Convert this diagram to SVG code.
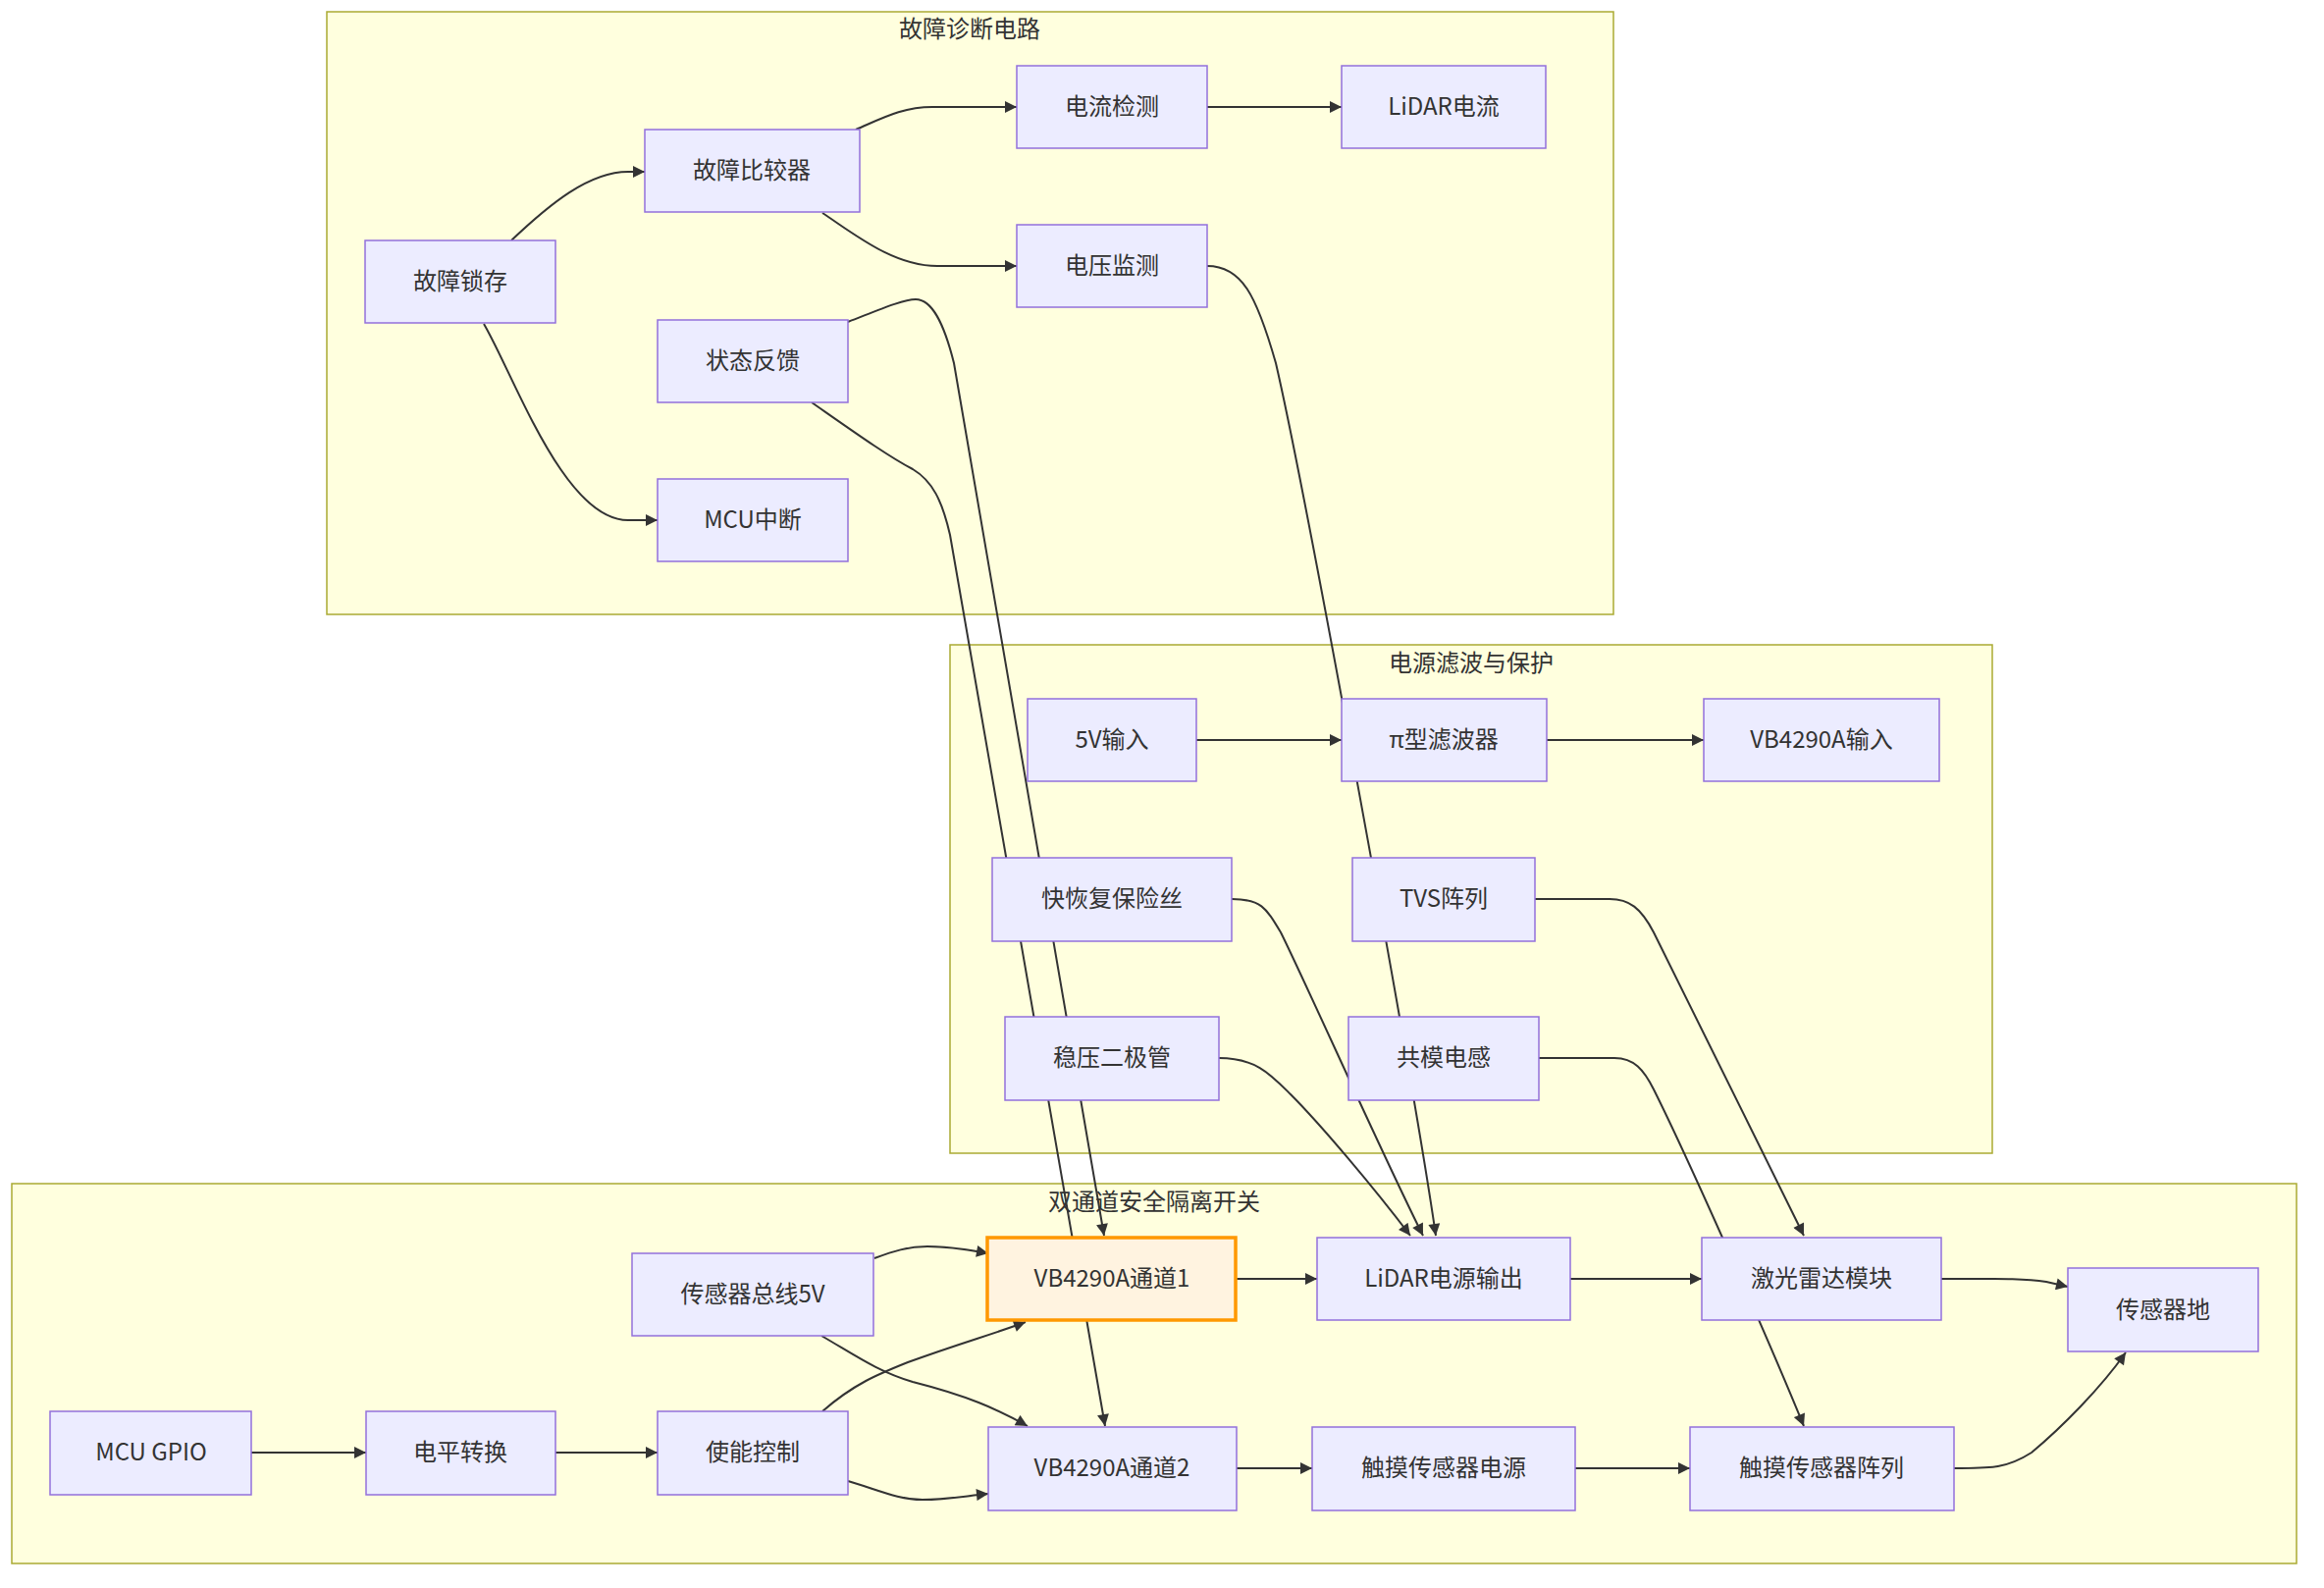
<svg xmlns="http://www.w3.org/2000/svg" width="2368" height="1618" viewBox="0 0 2368 1618">
<defs>
<style>
.cluster rect{fill:#ffffde;stroke:#aaaa33;stroke-width:1.5}
.ctitle{font-family:"Noto Sans CJK SC","Noto Sans",sans-serif;font-size:24px;fill:#333;text-anchor:middle;dominant-baseline:central}
.node rect{fill:#ececff;stroke:#9370db;stroke-width:1.5}
.node text{font-family:"Noto Sans CJK SC","Noto Sans",sans-serif;font-size:24px;fill:#333;text-anchor:middle;dominant-baseline:central}
.node.hl rect{fill:#fff3e0;stroke:#ff9800;stroke-width:3.5}
.edges path{fill:none;stroke:#333;stroke-width:2;marker-end:url(#arr)}
</style>
<marker id="arr" viewBox="0 0 10 10" refX="10" refY="5" markerUnits="userSpaceOnUse" markerWidth="13" markerHeight="12" orient="auto">
<path d="M0,0 L10,5 L0,10 z" fill="#333"/>
</marker>
</defs>
<rect width="2368" height="1618" fill="#ffffff"/>
<g id="clusters">
<g class="cluster" id="cluster-fault"><rect x="333" y="12" width="1311" height="614"/><text class="ctitle" x="988" y="27">故障诊断电路</text></g>
<g class="cluster" id="cluster-filter"><rect x="968" y="657" width="1062" height="518"/><text class="ctitle" x="1499" y="673">电源滤波与保护</text></g>
<g class="cluster" id="cluster-switch"><rect x="12" y="1206" width="2328" height="387"/><text class="ctitle" x="1176" y="1222">双通道安全隔离开关</text></g>
</g>
<g class="edges" id="connectors">
<path d="M521,245 C560,208 600,175 640,175 L657,175"/>
<path d="M493,330 C525,385 575,530 640,530 L670,530"/>
<path d="M872,132 C900,120 920,109 950,109 L1036,109"/>
<path d="M838,217 C870,238 910,271 955,271 L1036,271"/>
<path d="M1230,109 L1367,109"/>
<path d="M1230,271 C1265,271 1280,300 1300,370 C1330,500 1440,1100 1463,1259"/>
<path d="M864,328 C895,316 920,305 933,305 C950,305 962,330 972,370 L1125,1259"/>
<path d="M827,410 C870,440 905,465 930,478 C950,490 960,510 968,545 L1126,1453"/>
<path d="M1219,754 L1367,754"/>
<path d="M1576,754 L1736,754"/>
<path d="M1255,916 C1285,916 1290,925 1305,950 C1330,1000 1410,1180 1450,1259"/>
<path d="M1242,1078 C1280,1078 1295,1095 1315,1115 C1345,1145 1400,1210 1437,1259"/>
<path d="M1564,916 L1640,916 C1660,916 1672,925 1685,950 L1838,1259"/>
<path d="M1568,1078 L1645,1078 C1665,1078 1675,1090 1685,1110 C1720,1180 1800,1360 1838,1453"/>
<path d="M256,1480 L373,1480"/>
<path d="M566,1480 L670,1480"/>
<path d="M838,1438 C870,1410 895,1400 925,1388 C980,1368 1010,1360 1045,1347"/>
<path d="M864,1509 C895,1518 915,1528 940,1528 C965,1528 985,1524 1007,1522"/>
<path d="M891,1282 C910,1275 925,1270 945,1270 C970,1270 990,1274 1007,1277"/>
<path d="M837,1361 C870,1380 895,1398 930,1408 C985,1422 1015,1435 1047,1453"/>
<path d="M1259,1303 L1342,1303"/>
<path d="M1600,1303 L1734,1303"/>
<path d="M1260,1496 L1337,1496"/>
<path d="M1605,1496 L1722,1496"/>
<path d="M1978,1303 C2030,1303 2060,1302 2085,1306 L2107,1311"/>
<path d="M1991,1496 C2030,1496 2045,1496 2070,1480 C2100,1455 2140,1415 2166,1378"/>
</g>
<g id="nodes">
<g class="node" id="n-latch"><rect x="372" y="245" width="194" height="84"/><text x="469" y="284">故障锁存</text></g>
<g class="node" id="n-comp"><rect x="657" y="132" width="219" height="84"/><text x="766" y="171">故障比较器</text></g>
<g class="node" id="n-status"><rect x="670" y="326" width="194" height="84"/><text x="767" y="365">状态反馈</text></g>
<g class="node" id="n-mcuint"><rect x="670" y="488" width="194" height="84"/><text x="767" y="527">MCU中断</text></g>
<g class="node" id="n-cur"><rect x="1036" y="67" width="194" height="84"/><text x="1133" y="106">电流检测</text></g>
<g class="node" id="n-volt"><rect x="1036" y="229" width="194" height="84"/><text x="1133" y="268">电压监测</text></g>
<g class="node" id="n-lidarcur"><rect x="1367" y="67" width="208" height="84"/><text x="1471" y="106">LiDAR电流</text></g>
<g class="node" id="n-5v"><rect x="1047" y="712" width="172" height="84"/><text x="1133" y="751">5V输入</text></g>
<g class="node" id="n-pi"><rect x="1367" y="712" width="209" height="84"/><text x="1471" y="751">π型滤波器</text></g>
<g class="node" id="n-vbin"><rect x="1736" y="712" width="240" height="84"/><text x="1856" y="751">VB4290A输入</text></g>
<g class="node" id="n-fuse"><rect x="1011" y="874" width="244" height="85"/><text x="1133" y="913">快恢复保险丝</text></g>
<g class="node" id="n-tvs"><rect x="1378" y="874" width="186" height="85"/><text x="1471" y="913">TVS阵列</text></g>
<g class="node" id="n-zener"><rect x="1024" y="1036" width="218" height="85"/><text x="1133" y="1075">稳压二极管</text></g>
<g class="node" id="n-cm"><rect x="1374" y="1036" width="194" height="85"/><text x="1471" y="1075">共模电感</text></g>
<g class="node" id="n-bus"><rect x="644" y="1277" width="246" height="84"/><text x="767" y="1316">传感器总线5V</text></g>
<g class="node hl" id="n-ch1"><rect x="1006" y="1261" width="253" height="84"/><text x="1133" y="1300">VB4290A通道1</text></g>
<g class="node" id="n-lidarout"><rect x="1342" y="1261" width="258" height="84"/><text x="1471" y="1300">LiDAR电源输出</text></g>
<g class="node" id="n-lidar"><rect x="1734" y="1261" width="244" height="84"/><text x="1856" y="1300">激光雷达模块</text></g>
<g class="node" id="n-gnd"><rect x="2107" y="1292" width="194" height="85"/><text x="2204" y="1332">传感器地</text></g>
<g class="node" id="n-gpio"><rect x="51" y="1438" width="205" height="85"/><text x="154" y="1477">MCU GPIO</text></g>
<g class="node" id="n-level"><rect x="373" y="1438" width="193" height="85"/><text x="469" y="1477">电平转换</text></g>
<g class="node" id="n-en"><rect x="670" y="1438" width="194" height="85"/><text x="767" y="1477">使能控制</text></g>
<g class="node" id="n-ch2"><rect x="1007" y="1454" width="253" height="85"/><text x="1133" y="1493">VB4290A通道2</text></g>
<g class="node" id="n-touchpwr"><rect x="1337" y="1454" width="268" height="85"/><text x="1471" y="1493">触摸传感器电源</text></g>
<g class="node" id="n-toucharr"><rect x="1722" y="1454" width="269" height="85"/><text x="1856" y="1493">触摸传感器阵列</text></g>
</g>
</svg>
